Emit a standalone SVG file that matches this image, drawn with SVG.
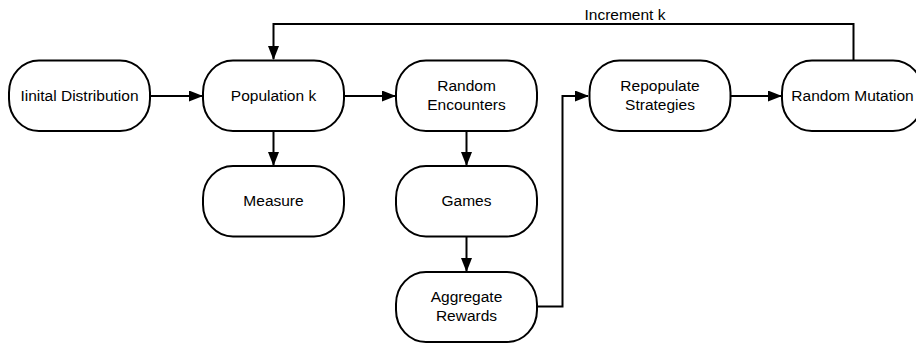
<svg xmlns="http://www.w3.org/2000/svg" width="916" height="343" viewBox="0 0 916 343">
<style>
.n{fill:#fff;stroke:#000;stroke-width:2}
.t{font-family:"Liberation Sans",Arial,sans-serif;font-size:15.5px;fill:#000;text-anchor:middle}
.c{fill:none;stroke:#000;stroke-width:2}
</style>
<defs>
<marker id="a" markerWidth="14" markerHeight="11" refX="13" refY="5.5" orient="auto" markerUnits="userSpaceOnUse">
<path d="M0,0 L14,5.5 L0,11 Z" fill="#000"/>
</marker>
</defs>
<rect width="916" height="343" fill="#fff"/>
<g id="connectors">
<path class="c" d="M150,96 H202" marker-end="url(#a)"/>
<path class="c" d="M344,96 H395" marker-end="url(#a)"/>
<path class="c" d="M273.5,131 V165" marker-end="url(#a)"/>
<path class="c" d="M466.5,131 V165" marker-end="url(#a)"/>
<path class="c" d="M466.5,237 V271" marker-end="url(#a)"/>
<path class="c" d="M537,306.5 H562.5 V96 H588" marker-end="url(#a)"/>
<path class="c" d="M731,96 H781" marker-end="url(#a)"/>
<path class="c" d="M853.5,60 V24 H273.5 V59" marker-end="url(#a)"/>
<text class="t" x="625" y="20">Increment k</text>
</g>
<g id="init"><rect class="n" x="9" y="60.5" width="141" height="70.5" rx="30" ry="32"/><text class="t" x="79.5" y="101">Iinital Distribution</text></g>
<g id="pop"><rect class="n" x="203" y="60.5" width="141" height="70.5" rx="30" ry="32"/><text class="t" x="273.5" y="101">Population k</text></g>
<g id="enc"><rect class="n" x="396" y="60.5" width="141" height="70.5" rx="30" ry="32"/><text class="t" x="466.5" y="91">Random</text><text class="t" x="466.5" y="109.5">Encounters</text></g>
<g id="repop"><rect class="n" x="589.5" y="60.5" width="141" height="70.5" rx="30" ry="32"/><text class="t" x="660" y="91">Repopulate</text><text class="t" x="660" y="109.5">Strategies</text></g>
<g id="mut"><rect class="n" x="782" y="60.5" width="141" height="70.5" rx="30" ry="32"/><text class="t" x="852.5" y="101">Random Mutation</text></g>
<g id="measure"><rect class="n" x="203" y="166" width="141" height="70.5" rx="30" ry="32"/><text class="t" x="273.5" y="206">Measure</text></g>
<g id="games"><rect class="n" x="396" y="166" width="141" height="70.5" rx="30" ry="32"/><text class="t" x="466.5" y="206">Games</text></g>
<g id="agg"><rect class="n" x="396" y="272" width="141" height="70" rx="30" ry="32"/><text class="t" x="466.5" y="302">Aggregate</text><text class="t" x="466.5" y="320.5">Rewards</text></g>
</svg>
